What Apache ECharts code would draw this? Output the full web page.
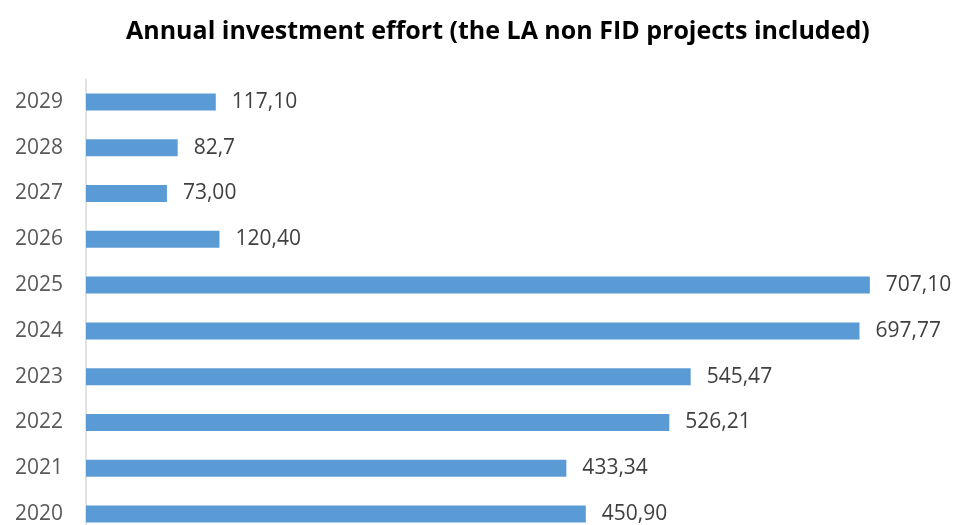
<!DOCTYPE html>
<html>
<head>
<meta charset="utf-8">
<script src="https://cdn.jsdelivr.net/npm/echarts@6/dist/echarts.min.js"></script>
<style>
  html, body { margin: 0; padding: 0; background: #fff; }
  #chart { width: 962px; height: 525px; }
</style>
</head>
<body>
<div id="chart"></div>
<script>
// Years, bottom to top
const years = ['2020', '2021', '2022', '2023', '2024', '2025', '2026', '2027', '2028', '2029'];
// Annual investment per year
const investment = [450.90, 433.34, 526.21, 545.47, 697.77, 707.10, 120.40, 73.00, 82.7, 117.10];
// Printed labels (comma decimal separator)
const valueLabels = ['450,90', '433,34', '526,21', '545,47', '697,77', '707,10', '120,40', '73,00', '82,7', '117,10'];

const chart = echarts.init(document.getElementById('chart'));
chart.setOption({
  animation: false,
  title: {
    text: 'Annual investment effort (the LA non FID projects included)',
    left: 121,
    top: 14,
    textStyle: { fontFamily: 'Open Sans', fontWeight: 'bold', fontSize: 25, color: '#000' }
  },
  grid: { left: 86, top: 79, width: 858, height: 458, containLabel: false, outerBoundsMode: 'none' },
  xAxis: {
    type: 'value', min: 0, max: 774,
    show: false
  },
  yAxis: {
    type: 'category',
    data: years,
    axisLine: { show: true, lineStyle: { color: '#d9d9d9', width: 1.5 } },
    axisTick: { show: false },
    axisLabel: { fontFamily: 'Open Sans', fontSize: 21, color: '#595959', margin: 23 }
  },
  series: [{
    type: 'bar',
    data: investment,
    barWidth: 17,
    itemStyle: { color: '#5b9bd5' },
    label: {
      show: true,
      position: 'right',
      distance: 16,
      fontFamily: 'Open Sans',
      fontSize: 21,
      color: '#404040',
      formatter: p => valueLabels[p.dataIndex]
    }
  }]
});
</script>
</body>
</html>
